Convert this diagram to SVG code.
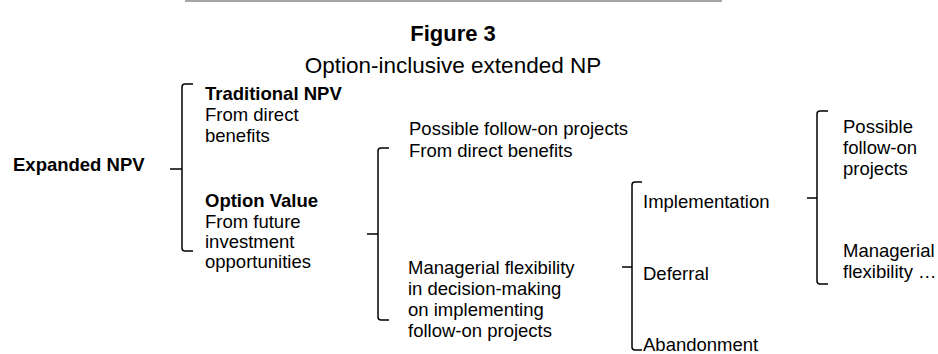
<svg xmlns="http://www.w3.org/2000/svg" width="938" height="354" viewBox="0 0 938 354">
<style>
text{font-family:"Liberation Sans",Arial,sans-serif;fill:#000}
.t{font-size:18.5px}
.b{font-size:18.5px;font-weight:bold}
.h{font-size:22.5px}
.hb{font-size:22px;font-weight:bold}
.br{fill:none;stroke:#000;stroke-width:1.5}
</style>
<rect width="938" height="354" fill="#fff"/>
<line x1="185" y1="1" x2="722" y2="1" stroke="#a6a6a6" stroke-width="2"/>
<g id="title">
<text class="hb" x="453" y="41" text-anchor="middle">Figure 3</text>
<text class="h" x="453" y="73" text-anchor="middle">Option-inclusive extended NP</text>
</g>
<g id="connectors">
<path class="br" d="M193 84H185Q182 84 182 87V248Q182 251 185 251H193M170 169H182"/>
<path class="br" d="M389 148H381Q378 148 378 151V317Q378 320 381 320H389M367 234H378"/>
<path class="br" d="M642 182H635Q632 182 632 185V347Q632 350 635 350H642M622 267H632"/>
<path class="br" d="M828 111H820Q817 111 817 114V281Q817 284 820 284H828M807 198H817"/>
</g>
<g id="expanded">
<text class="b" x="13" y="171">Expanded NPV</text>
</g>
<g id="traditional">
<text class="b" x="205" y="100">Traditional NPV</text>
<text class="t" x="205" y="121">From direct</text>
<text class="t" x="205" y="142">benefits</text>
</g>
<g id="option">
<text class="b" x="205" y="207">Option Value</text>
<text class="t" x="205" y="228">From future</text>
<text class="t" x="205" y="248">investment</text>
<text class="t" x="205" y="268">opportunities</text>
</g>
<g id="followon">
<text class="t" x="409" y="135">Possible follow-on projects</text>
<text class="t" x="409" y="157">From direct benefits</text>
</g>
<g id="flexibility">
<text class="t" x="408" y="274">Managerial flexibility</text>
<text class="t" x="408" y="295">in decision-making</text>
<text class="t" x="408" y="316">on implementing</text>
<text class="t" x="408" y="337">follow-on projects</text>
</g>
<g id="implementation"><text class="t" x="643" y="208">Implementation</text></g>
<g id="deferral"><text class="t" x="643" y="280">Deferral</text></g>
<g id="abandonment"><text class="t" x="643" y="351">Abandonment</text></g>
<g id="possible2">
<text class="t" x="843" y="133">Possible</text>
<text class="t" x="843" y="154">follow-on</text>
<text class="t" x="843" y="175">projects</text>
</g>
<g id="managerial2">
<text class="t" x="843" y="257">Managerial</text>
<text class="t" x="843" y="278">flexibility …</text>
</g>
</svg>
